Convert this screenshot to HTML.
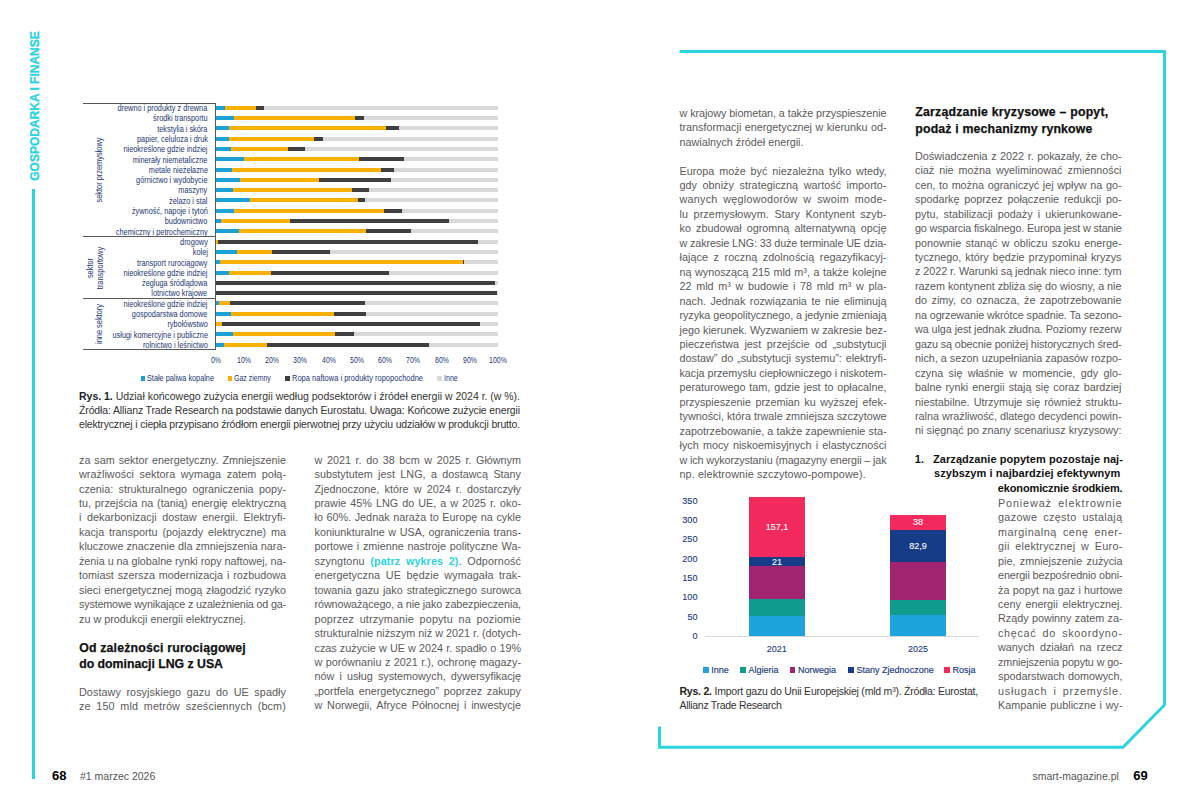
<!DOCTYPE html>
<html><head><meta charset="utf-8"><title>Magazine spread</title>
<style>
html,body{margin:0;padding:0;background:#fff;}
body{width:1200px;height:805px;position:relative;overflow:hidden;font-family:"Liberation Sans", sans-serif;}
b{font-weight:bold}
</style></head><body>
<div style="position:absolute;left:32px;top:189px;width:3px;height:590px;background:#2bd4de"></div><div style="position:absolute;left:35px;top:105.5px;width:0;height:0"><div style="position:absolute;transform:translate(-50%,-50%) rotate(-90deg);font-size:12px;line-height:12px;font-weight:bold;color:#2bd4de;white-space:pre;-webkit-text-stroke:0.3px #2bd4de">GOSPODARKA I FINANSE</div></div><svg style="position:absolute;left:0;top:0" width="1200" height="805"><polyline points="679.5,51.5 1164.5,51.5 1164.5,705 1123,747.3 659.5,747.3 659.5,726.6" fill="none" stroke="#2bd4de" stroke-width="3" stroke-linejoin="miter"/></svg><div style="position:absolute;left:52px;top:769.0px;font-size:13px;line-height:13px;font-weight:bold;color:#000">68</div><div style="position:absolute;left:80px;top:771.1px;font-size:10.5px;line-height:10.5px;color:#555">#1 marzec 2026</div><div style="position:absolute;left:1032.5px;top:771.1px;font-size:10.5px;line-height:10.5px;color:#555">smart-magazine.pl</div><div style="position:absolute;left:1133.3px;top:769.0px;font-size:13px;line-height:13px;font-weight:bold;color:#000">69</div>
<div style="position:absolute;left:215.50px;top:105.70px;width:9.50px;height:4px;background:#1ca0d8"></div><div style="position:absolute;left:225.00px;top:105.70px;width:31.00px;height:4px;background:#f8b100"></div><div style="position:absolute;left:256.00px;top:105.70px;width:8.00px;height:4px;background:#3f3f3f"></div><div style="position:absolute;left:264.00px;top:105.70px;width:234.00px;height:4px;background:#d9d9d9"></div><div style="position:absolute;right:992.4px;top:103.00px;font-size:8.7px;line-height:10px;color:#1b376f;white-space:pre;transform:scaleX(0.845);transform-origin:100% 50%">drewno i produkty z drewna</div><div style="position:absolute;left:215.50px;top:116.00px;width:18.75px;height:4px;background:#1ca0d8"></div><div style="position:absolute;left:234.25px;top:116.00px;width:121.00px;height:4px;background:#f8b100"></div><div style="position:absolute;left:355.25px;top:116.00px;width:9.00px;height:4px;background:#3f3f3f"></div><div style="position:absolute;left:364.25px;top:116.00px;width:133.75px;height:4px;background:#d9d9d9"></div><div style="position:absolute;right:992.4px;top:113.30px;font-size:8.7px;line-height:10px;color:#1b376f;white-space:pre;transform:scaleX(0.845);transform-origin:100% 50%">środki transportu</div><div style="position:absolute;left:215.50px;top:126.30px;width:13.00px;height:4px;background:#1ca0d8"></div><div style="position:absolute;left:228.50px;top:126.30px;width:157.75px;height:4px;background:#f8b100"></div><div style="position:absolute;left:386.25px;top:126.30px;width:12.75px;height:4px;background:#3f3f3f"></div><div style="position:absolute;left:399.00px;top:126.30px;width:99.00px;height:4px;background:#d9d9d9"></div><div style="position:absolute;right:992.4px;top:123.60px;font-size:8.7px;line-height:10px;color:#1b376f;white-space:pre;transform:scaleX(0.845);transform-origin:100% 50%">tekstylia i skóra</div><div style="position:absolute;left:215.50px;top:136.60px;width:13.50px;height:4px;background:#1ca0d8"></div><div style="position:absolute;left:229.00px;top:136.60px;width:85.25px;height:4px;background:#f8b100"></div><div style="position:absolute;left:314.25px;top:136.60px;width:8.50px;height:4px;background:#3f3f3f"></div><div style="position:absolute;left:322.75px;top:136.60px;width:175.25px;height:4px;background:#d9d9d9"></div><div style="position:absolute;right:992.4px;top:133.90px;font-size:8.7px;line-height:10px;color:#1b376f;white-space:pre;transform:scaleX(0.845);transform-origin:100% 50%">papier, celuloza i druk</div><div style="position:absolute;left:215.50px;top:146.90px;width:15.75px;height:4px;background:#1ca0d8"></div><div style="position:absolute;left:231.25px;top:146.90px;width:56.50px;height:4px;background:#f8b100"></div><div style="position:absolute;left:287.75px;top:146.90px;width:17.25px;height:4px;background:#3f3f3f"></div><div style="position:absolute;left:305.00px;top:146.90px;width:193.00px;height:4px;background:#d9d9d9"></div><div style="position:absolute;right:992.4px;top:144.20px;font-size:8.7px;line-height:10px;color:#1b376f;white-space:pre;transform:scaleX(0.845);transform-origin:100% 50%">nieokreślone gdzie indziej</div><div style="position:absolute;left:215.50px;top:157.20px;width:28.00px;height:4px;background:#1ca0d8"></div><div style="position:absolute;left:243.50px;top:157.20px;width:115.75px;height:4px;background:#f8b100"></div><div style="position:absolute;left:359.25px;top:157.20px;width:44.75px;height:4px;background:#3f3f3f"></div><div style="position:absolute;left:404.00px;top:157.20px;width:94.00px;height:4px;background:#d9d9d9"></div><div style="position:absolute;right:992.4px;top:154.50px;font-size:8.7px;line-height:10px;color:#1b376f;white-space:pre;transform:scaleX(0.845);transform-origin:100% 50%">minerały niemetaliczne</div><div style="position:absolute;left:215.50px;top:167.50px;width:16.50px;height:4px;background:#1ca0d8"></div><div style="position:absolute;left:232.00px;top:167.50px;width:148.75px;height:4px;background:#f8b100"></div><div style="position:absolute;left:380.75px;top:167.50px;width:13.25px;height:4px;background:#3f3f3f"></div><div style="position:absolute;left:394.00px;top:167.50px;width:104.00px;height:4px;background:#d9d9d9"></div><div style="position:absolute;right:992.4px;top:164.80px;font-size:8.7px;line-height:10px;color:#1b376f;white-space:pre;transform:scaleX(0.845);transform-origin:100% 50%">metale nieżelazne</div><div style="position:absolute;left:215.50px;top:177.80px;width:24.25px;height:4px;background:#1ca0d8"></div><div style="position:absolute;left:239.75px;top:177.80px;width:79.00px;height:4px;background:#f8b100"></div><div style="position:absolute;left:318.75px;top:177.80px;width:72.25px;height:4px;background:#3f3f3f"></div><div style="position:absolute;left:391.00px;top:177.80px;width:107.00px;height:4px;background:#d9d9d9"></div><div style="position:absolute;right:992.4px;top:175.10px;font-size:8.7px;line-height:10px;color:#1b376f;white-space:pre;transform:scaleX(0.845);transform-origin:100% 50%">górnictwo i wydobycie</div><div style="position:absolute;left:215.50px;top:188.10px;width:17.50px;height:4px;background:#1ca0d8"></div><div style="position:absolute;left:233.00px;top:188.10px;width:119.25px;height:4px;background:#f8b100"></div><div style="position:absolute;left:352.25px;top:188.10px;width:16.75px;height:4px;background:#3f3f3f"></div><div style="position:absolute;left:369.00px;top:188.10px;width:129.00px;height:4px;background:#d9d9d9"></div><div style="position:absolute;right:992.4px;top:185.40px;font-size:8.7px;line-height:10px;color:#1b376f;white-space:pre;transform:scaleX(0.845);transform-origin:100% 50%">maszyny</div><div style="position:absolute;left:215.50px;top:198.40px;width:34.50px;height:4px;background:#1ca0d8"></div><div style="position:absolute;left:250.00px;top:198.40px;width:107.50px;height:4px;background:#f8b100"></div><div style="position:absolute;left:357.50px;top:198.40px;width:7.50px;height:4px;background:#3f3f3f"></div><div style="position:absolute;left:365.00px;top:198.40px;width:133.00px;height:4px;background:#d9d9d9"></div><div style="position:absolute;right:992.4px;top:195.70px;font-size:8.7px;line-height:10px;color:#1b376f;white-space:pre;transform:scaleX(0.845);transform-origin:100% 50%">żelazo i stal</div><div style="position:absolute;left:215.50px;top:208.70px;width:18.75px;height:4px;background:#1ca0d8"></div><div style="position:absolute;left:234.25px;top:208.70px;width:150.00px;height:4px;background:#f8b100"></div><div style="position:absolute;left:384.25px;top:208.70px;width:17.50px;height:4px;background:#3f3f3f"></div><div style="position:absolute;left:401.75px;top:208.70px;width:96.25px;height:4px;background:#d9d9d9"></div><div style="position:absolute;right:992.4px;top:206.00px;font-size:8.7px;line-height:10px;color:#1b376f;white-space:pre;transform:scaleX(0.845);transform-origin:100% 50%">żywność, napoje i tytoń</div><div style="position:absolute;left:215.50px;top:219.00px;width:5.75px;height:4px;background:#1ca0d8"></div><div style="position:absolute;left:221.25px;top:219.00px;width:68.75px;height:4px;background:#f8b100"></div><div style="position:absolute;left:290.00px;top:219.00px;width:159.00px;height:4px;background:#3f3f3f"></div><div style="position:absolute;left:449.00px;top:219.00px;width:49.00px;height:4px;background:#d9d9d9"></div><div style="position:absolute;right:992.4px;top:216.30px;font-size:8.7px;line-height:10px;color:#1b376f;white-space:pre;transform:scaleX(0.845);transform-origin:100% 50%">budownictwo</div><div style="position:absolute;left:215.50px;top:229.30px;width:23.50px;height:4px;background:#1ca0d8"></div><div style="position:absolute;left:239.00px;top:229.30px;width:127.00px;height:4px;background:#f8b100"></div><div style="position:absolute;left:366.00px;top:229.30px;width:44.75px;height:4px;background:#3f3f3f"></div><div style="position:absolute;left:410.75px;top:229.30px;width:87.25px;height:4px;background:#d9d9d9"></div><div style="position:absolute;right:992.4px;top:226.60px;font-size:8.7px;line-height:10px;color:#1b376f;white-space:pre;transform:scaleX(0.845);transform-origin:100% 50%">chemiczny i petrochemiczny</div><div style="position:absolute;left:215.50px;top:239.60px;width:0.50px;height:4px;background:#1ca0d8"></div><div style="position:absolute;left:216.00px;top:239.60px;width:2.00px;height:4px;background:#f8b100"></div><div style="position:absolute;left:218.00px;top:239.60px;width:260.25px;height:4px;background:#3f3f3f"></div><div style="position:absolute;left:478.25px;top:239.60px;width:19.75px;height:4px;background:#d9d9d9"></div><div style="position:absolute;right:992.4px;top:236.90px;font-size:8.7px;line-height:10px;color:#1b376f;white-space:pre;transform:scaleX(0.845);transform-origin:100% 50%">drogowy</div><div style="position:absolute;left:215.50px;top:249.90px;width:21.50px;height:4px;background:#1ca0d8"></div><div style="position:absolute;left:237.00px;top:249.90px;width:35.25px;height:4px;background:#f8b100"></div><div style="position:absolute;left:272.25px;top:249.90px;width:57.75px;height:4px;background:#3f3f3f"></div><div style="position:absolute;left:330.00px;top:249.90px;width:168.00px;height:4px;background:#d9d9d9"></div><div style="position:absolute;right:992.4px;top:247.20px;font-size:8.7px;line-height:10px;color:#1b376f;white-space:pre;transform:scaleX(0.845);transform-origin:100% 50%">kolej</div><div style="position:absolute;left:215.50px;top:260.20px;width:4.50px;height:4px;background:#1ca0d8"></div><div style="position:absolute;left:220.00px;top:260.20px;width:243.25px;height:4px;background:#f8b100"></div><div style="position:absolute;left:463.25px;top:260.20px;width:1.00px;height:4px;background:#3f3f3f"></div><div style="position:absolute;left:464.25px;top:260.20px;width:33.75px;height:4px;background:#d9d9d9"></div><div style="position:absolute;right:992.4px;top:257.50px;font-size:8.7px;line-height:10px;color:#1b376f;white-space:pre;transform:scaleX(0.845);transform-origin:100% 50%">transport rurociągowy</div><div style="position:absolute;left:215.50px;top:270.50px;width:13.75px;height:4px;background:#1ca0d8"></div><div style="position:absolute;left:229.25px;top:270.50px;width:41.50px;height:4px;background:#f8b100"></div><div style="position:absolute;left:270.75px;top:270.50px;width:118.25px;height:4px;background:#3f3f3f"></div><div style="position:absolute;left:389.00px;top:270.50px;width:109.00px;height:4px;background:#d9d9d9"></div><div style="position:absolute;right:992.4px;top:267.80px;font-size:8.7px;line-height:10px;color:#1b376f;white-space:pre;transform:scaleX(0.845);transform-origin:100% 50%">nieokreślone gdzie indziej</div><div style="position:absolute;left:215.50px;top:280.80px;width:279.75px;height:4px;background:#3f3f3f"></div><div style="position:absolute;left:495.25px;top:280.80px;width:2.75px;height:4px;background:#d9d9d9"></div><div style="position:absolute;right:992.4px;top:278.10px;font-size:8.7px;line-height:10px;color:#1b376f;white-space:pre;transform:scaleX(0.845);transform-origin:100% 50%">żegluga śródlądowa</div><div style="position:absolute;left:215.50px;top:291.10px;width:281.25px;height:4px;background:#3f3f3f"></div><div style="position:absolute;left:496.75px;top:291.10px;width:1.25px;height:4px;background:#d9d9d9"></div><div style="position:absolute;right:992.4px;top:288.40px;font-size:8.7px;line-height:10px;color:#1b376f;white-space:pre;transform:scaleX(0.845);transform-origin:100% 50%">lotnictwo krajowe</div><div style="position:absolute;left:215.50px;top:301.40px;width:3.75px;height:4px;background:#1ca0d8"></div><div style="position:absolute;left:219.25px;top:301.40px;width:11.00px;height:4px;background:#f8b100"></div><div style="position:absolute;left:230.25px;top:301.40px;width:134.75px;height:4px;background:#3f3f3f"></div><div style="position:absolute;left:365.00px;top:301.40px;width:133.00px;height:4px;background:#d9d9d9"></div><div style="position:absolute;right:992.4px;top:298.70px;font-size:8.7px;line-height:10px;color:#1b376f;white-space:pre;transform:scaleX(0.845);transform-origin:100% 50%">nieokreślone gdzie indziej</div><div style="position:absolute;left:215.50px;top:311.70px;width:15.75px;height:4px;background:#1ca0d8"></div><div style="position:absolute;left:231.25px;top:311.70px;width:103.00px;height:4px;background:#f8b100"></div><div style="position:absolute;left:334.25px;top:311.70px;width:31.50px;height:4px;background:#3f3f3f"></div><div style="position:absolute;left:365.75px;top:311.70px;width:132.25px;height:4px;background:#d9d9d9"></div><div style="position:absolute;right:992.4px;top:309.00px;font-size:8.7px;line-height:10px;color:#1b376f;white-space:pre;transform:scaleX(0.845);transform-origin:100% 50%">gospodarstwa domowe</div><div style="position:absolute;left:215.50px;top:322.00px;width:0.75px;height:4px;background:#1ca0d8"></div><div style="position:absolute;left:216.25px;top:322.00px;width:6.00px;height:4px;background:#f8b100"></div><div style="position:absolute;left:222.25px;top:322.00px;width:257.75px;height:4px;background:#3f3f3f"></div><div style="position:absolute;left:480.00px;top:322.00px;width:18.00px;height:4px;background:#d9d9d9"></div><div style="position:absolute;right:992.4px;top:319.30px;font-size:8.7px;line-height:10px;color:#1b376f;white-space:pre;transform:scaleX(0.845);transform-origin:100% 50%">rybołówstwo</div><div style="position:absolute;left:215.50px;top:332.30px;width:17.75px;height:4px;background:#1ca0d8"></div><div style="position:absolute;left:233.25px;top:332.30px;width:101.75px;height:4px;background:#f8b100"></div><div style="position:absolute;left:335.00px;top:332.30px;width:18.75px;height:4px;background:#3f3f3f"></div><div style="position:absolute;left:353.75px;top:332.30px;width:144.25px;height:4px;background:#d9d9d9"></div><div style="position:absolute;right:992.4px;top:329.60px;font-size:8.7px;line-height:10px;color:#1b376f;white-space:pre;transform:scaleX(0.845);transform-origin:100% 50%">usługi komercyjne i publiczne</div><div style="position:absolute;left:215.50px;top:342.60px;width:8.00px;height:4px;background:#1ca0d8"></div><div style="position:absolute;left:223.50px;top:342.60px;width:43.50px;height:4px;background:#f8b100"></div><div style="position:absolute;left:267.00px;top:342.60px;width:162.25px;height:4px;background:#3f3f3f"></div><div style="position:absolute;left:429.25px;top:342.60px;width:68.75px;height:4px;background:#d9d9d9"></div><div style="position:absolute;right:992.4px;top:339.90px;font-size:8.7px;line-height:10px;color:#1b376f;white-space:pre;transform:scaleX(0.845);transform-origin:100% 50%">rolnictwo i leśnictwo</div><div style="position:absolute;left:83px;top:102.5px;width:132.5px;height:1px;background:#595959"></div><div style="position:absolute;left:214.6px;top:102.5px;width:1px;height:247.5px;background:#595959"></div><div style="position:absolute;left:83px;top:236.2px;width:132.5px;height:1px;background:#595959"></div><div style="position:absolute;left:83px;top:298.0px;width:132.5px;height:1px;background:#595959"></div><div style="position:absolute;left:83px;top:349.2px;width:132.5px;height:1px;background:#595959"></div><div style="position:absolute;left:98.5px;top:170px;width:0;height:0"><div style="position:absolute;left:0;top:0;transform:translate(-50%,-50%) rotate(-90deg) scaleX(0.86);font-size:8.6px;line-height:10px;color:#1b376f;white-space:pre;text-align:center">sektor przemysłowy</div></div><div style="position:absolute;left:94.5px;top:267.5px;width:0;height:0"><div style="position:absolute;left:0;top:0;transform:translate(-50%,-50%) rotate(-90deg) scaleX(0.86);font-size:8.6px;line-height:10px;color:#1b376f;white-space:pre;text-align:center">sektor
transportowy</div></div><div style="position:absolute;left:98.5px;top:324px;width:0;height:0"><div style="position:absolute;left:0;top:0;transform:translate(-50%,-50%) rotate(-90deg) scaleX(0.86);font-size:8.6px;line-height:10px;color:#1b376f;white-space:pre;text-align:center">inne sektory</div></div><div style="position:absolute;left:195.50px;width:40px;text-align:center;top:355px;font-size:8.4px;line-height:10px;color:#1b376f;transform:scaleX(0.83)">0%</div><div style="position:absolute;left:223.75px;width:40px;text-align:center;top:355px;font-size:8.4px;line-height:10px;color:#1b376f;transform:scaleX(0.83)">10%</div><div style="position:absolute;left:252.00px;width:40px;text-align:center;top:355px;font-size:8.4px;line-height:10px;color:#1b376f;transform:scaleX(0.83)">20%</div><div style="position:absolute;left:280.25px;width:40px;text-align:center;top:355px;font-size:8.4px;line-height:10px;color:#1b376f;transform:scaleX(0.83)">30%</div><div style="position:absolute;left:308.50px;width:40px;text-align:center;top:355px;font-size:8.4px;line-height:10px;color:#1b376f;transform:scaleX(0.83)">40%</div><div style="position:absolute;left:336.75px;width:40px;text-align:center;top:355px;font-size:8.4px;line-height:10px;color:#1b376f;transform:scaleX(0.83)">50%</div><div style="position:absolute;left:365.00px;width:40px;text-align:center;top:355px;font-size:8.4px;line-height:10px;color:#1b376f;transform:scaleX(0.83)">60%</div><div style="position:absolute;left:393.25px;width:40px;text-align:center;top:355px;font-size:8.4px;line-height:10px;color:#1b376f;transform:scaleX(0.83)">70%</div><div style="position:absolute;left:421.50px;width:40px;text-align:center;top:355px;font-size:8.4px;line-height:10px;color:#1b376f;transform:scaleX(0.83)">80%</div><div style="position:absolute;left:449.75px;width:40px;text-align:center;top:355px;font-size:8.4px;line-height:10px;color:#1b376f;transform:scaleX(0.83)">90%</div><div style="position:absolute;left:478.00px;width:40px;text-align:center;top:355px;font-size:8.4px;line-height:10px;color:#1b376f;transform:scaleX(0.83)">100%</div><div style="position:absolute;left:140.5px;top:376.2px;width:4.4px;height:4.4px;background:#1ca0d8"></div><div style="position:absolute;left:146.8px;top:373.3px;font-size:8.5px;line-height:10px;color:#1b376f;white-space:pre;transform:scaleX(0.859);transform-origin:0 50%">Stałe paliwa kopalne</div><div style="position:absolute;left:228.0px;top:376.2px;width:4.4px;height:4.4px;background:#f8b100"></div><div style="position:absolute;left:234.3px;top:373.3px;font-size:8.5px;line-height:10px;color:#1b376f;white-space:pre;transform:scaleX(0.820);transform-origin:0 50%">Gaz ziemny</div><div style="position:absolute;left:285.3px;top:376.2px;width:4.4px;height:4.4px;background:#3f3f3f"></div><div style="position:absolute;left:291.6px;top:373.3px;font-size:8.5px;line-height:10px;color:#1b376f;white-space:pre;transform:scaleX(0.883);transform-origin:0 50%">Ropa naftowa i produkty ropopochodne</div><div style="position:absolute;left:437.3px;top:376.2px;width:4.4px;height:4.4px;background:#d9d9d9"></div><div style="position:absolute;left:443.6px;top:373.3px;font-size:8.5px;line-height:10px;color:#1b376f;white-space:pre;transform:scaleX(0.834);transform-origin:0 50%">Inne</div>
<div style="position:absolute;left:749.2px;top:615.9px;width:56.0px;height:20.1px;background:#1ea4dc"></div><div style="position:absolute;left:749.2px;top:599.1px;width:56.0px;height:16.8px;background:#0f9b8e"></div><div style="position:absolute;left:749.2px;top:565.8px;width:56.0px;height:33.3px;background:#a12470"></div><div style="position:absolute;left:749.2px;top:557px;width:56.0px;height:8.8px;background:#163b87"></div><div style="position:absolute;left:749.2px;top:496.5px;width:56.0px;height:60.5px;background:#f32a5e"></div><div style="position:absolute;left:890.3px;top:614.9px;width:55.4px;height:21.1px;background:#1ea4dc"></div><div style="position:absolute;left:890.3px;top:599.9px;width:55.4px;height:15.0px;background:#0f9b8e"></div><div style="position:absolute;left:890.3px;top:562.1px;width:55.4px;height:37.8px;background:#a12470"></div><div style="position:absolute;left:890.3px;top:529.8px;width:55.4px;height:32.3px;background:#163b87"></div><div style="position:absolute;left:890.3px;top:515.1px;width:55.4px;height:14.7px;background:#f32a5e"></div><div style="position:absolute;left:704.7px;top:636px;width:274.6px;height:1px;background:#d9d9d9"></div><div style="position:absolute;right:502.5px;top:630.9px;font-size:9.1px;line-height:11px;color:#1a3a80;-webkit-text-stroke:0.1px #1a3a80">0</div><div style="position:absolute;right:502.5px;top:611.6px;font-size:9.1px;line-height:11px;color:#1a3a80;-webkit-text-stroke:0.1px #1a3a80">50</div><div style="position:absolute;right:502.5px;top:592.3px;font-size:9.1px;line-height:11px;color:#1a3a80;-webkit-text-stroke:0.1px #1a3a80">100</div><div style="position:absolute;right:502.5px;top:573.0px;font-size:9.1px;line-height:11px;color:#1a3a80;-webkit-text-stroke:0.1px #1a3a80">150</div><div style="position:absolute;right:502.5px;top:553.7px;font-size:9.1px;line-height:11px;color:#1a3a80;-webkit-text-stroke:0.1px #1a3a80">200</div><div style="position:absolute;right:502.5px;top:534.4px;font-size:9.1px;line-height:11px;color:#1a3a80;-webkit-text-stroke:0.1px #1a3a80">250</div><div style="position:absolute;right:502.5px;top:515.1px;font-size:9.1px;line-height:11px;color:#1a3a80;-webkit-text-stroke:0.1px #1a3a80">300</div><div style="position:absolute;right:502.5px;top:495.9px;font-size:9.1px;line-height:11px;color:#1a3a80;-webkit-text-stroke:0.1px #1a3a80">350</div><div style="position:absolute;left:757.1px;width:40px;text-align:center;top:522.0px;font-size:9px;line-height:11px;color:#fff;-webkit-text-stroke:0.1px #fff">157,1</div><div style="position:absolute;left:757.1px;width:40px;text-align:center;top:556.6px;font-size:9px;line-height:11px;color:#fff;-webkit-text-stroke:0.1px #fff">21</div><div style="position:absolute;left:898px;width:40px;text-align:center;top:517.3px;font-size:9px;line-height:11px;color:#fff;-webkit-text-stroke:0.1px #fff">38</div><div style="position:absolute;left:898px;width:40px;text-align:center;top:541.0px;font-size:9px;line-height:11px;color:#fff;-webkit-text-stroke:0.1px #fff">82,9</div><div style="position:absolute;left:756.7px;width:40px;text-align:center;top:644.4px;font-size:9px;line-height:11px;color:#1a3a80;-webkit-text-stroke:0.1px #1a3a80">2021</div><div style="position:absolute;left:898px;width:40px;text-align:center;top:644.4px;font-size:9px;line-height:11px;color:#1a3a80;-webkit-text-stroke:0.1px #1a3a80">2025</div><div style="position:absolute;left:703.1px;top:667.1px;width:5.7px;height:5.6px;background:#1ea4dc"></div><div style="position:absolute;left:711.3px;top:665.1px;font-size:9px;line-height:11px;color:#1a3a80;white-space:pre;-webkit-text-stroke:0.15px #1a3a80">Inne</div><div style="position:absolute;left:740.4px;top:667.1px;width:5.7px;height:5.6px;background:#0f9b8e"></div><div style="position:absolute;left:748.6px;top:665.1px;font-size:9px;line-height:11px;color:#1a3a80;white-space:pre;-webkit-text-stroke:0.15px #1a3a80">Algieria</div><div style="position:absolute;left:789.8px;top:667.1px;width:5.7px;height:5.6px;background:#a12470"></div><div style="position:absolute;left:798.0px;top:665.1px;font-size:9px;line-height:11px;color:#1a3a80;white-space:pre;-webkit-text-stroke:0.15px #1a3a80">Norwegia</div><div style="position:absolute;left:848.4px;top:667.1px;width:5.7px;height:5.6px;background:#163b87"></div><div style="position:absolute;left:856.6px;top:665.1px;font-size:9px;line-height:11px;color:#1a3a80;white-space:pre;-webkit-text-stroke:0.15px #1a3a80">Stany Zjednoczone</div><div style="position:absolute;left:944.4px;top:667.1px;width:5.7px;height:5.6px;background:#f32a5e"></div><div style="position:absolute;left:952.6px;top:665.1px;font-size:9px;line-height:11px;color:#1a3a80;white-space:pre;-webkit-text-stroke:0.15px #1a3a80">Rosja</div>
<span style="position:absolute;left:79.00px;top:454.66px;font-size:10.8px;line-height:10.8px;font-weight:normal;color:#5a5a5a;white-space:pre;word-spacing:0.941px;">za sam sektor energetyczny. Zmniejszenie</span><span style="position:absolute;left:79.00px;top:469.11px;font-size:10.8px;line-height:10.8px;font-weight:normal;color:#5a5a5a;white-space:pre;word-spacing:2.500px;letter-spacing:0.037px;">wrażliwości sektora wymaga zatem połą-</span><span style="position:absolute;left:79.00px;top:483.56px;font-size:10.8px;line-height:10.8px;font-weight:normal;color:#5a5a5a;white-space:pre;word-spacing:2.380px;">czenia: strukturalnego ograniczenia popy-</span><span style="position:absolute;left:79.00px;top:498.01px;font-size:10.8px;line-height:10.8px;font-weight:normal;color:#5a5a5a;white-space:pre;word-spacing:0.831px;">tu, przejścia na (tanią) energię elektryczną</span><span style="position:absolute;left:79.00px;top:512.46px;font-size:10.8px;line-height:10.8px;font-weight:normal;color:#5a5a5a;white-space:pre;word-spacing:2.500px;letter-spacing:0.046px;">i dekarbonizacji dostaw energii. Elektryfi-</span><span style="position:absolute;left:79.00px;top:526.91px;font-size:10.8px;line-height:10.8px;font-weight:normal;color:#5a5a5a;white-space:pre;word-spacing:1.793px;">kacja transportu (pojazdy elektryczne) ma</span><span style="position:absolute;left:79.00px;top:541.36px;font-size:10.8px;line-height:10.8px;font-weight:normal;color:#5a5a5a;white-space:pre;letter-spacing:-0.001px;">kluczowe znaczenie dla zmniejszenia nara-</span><span style="position:absolute;left:79.00px;top:555.81px;font-size:10.8px;line-height:10.8px;font-weight:normal;color:#5a5a5a;white-space:pre;letter-spacing:-0.029px;">żenia u na globalne rynki ropy naftowej, na-</span><span style="position:absolute;left:79.00px;top:570.26px;font-size:10.8px;line-height:10.8px;font-weight:normal;color:#5a5a5a;white-space:pre;word-spacing:0.891px;">tomiast szersza modernizacja i rozbudowa</span><span style="position:absolute;left:79.00px;top:584.71px;font-size:10.8px;line-height:10.8px;font-weight:normal;color:#5a5a5a;white-space:pre;word-spacing:0.738px;">sieci energetycznej mogą złagodzić ryzyko</span><span style="position:absolute;left:79.00px;top:599.16px;font-size:10.8px;line-height:10.8px;font-weight:normal;color:#5a5a5a;white-space:pre;letter-spacing:-0.187px;">systemowe wynikające z uzależnienia od ga-</span><span style="position:absolute;left:79.00px;top:613.61px;font-size:10.8px;line-height:10.8px;font-weight:normal;color:#5a5a5a;white-space:pre;letter-spacing:-0.001px;">zu w produkcji energii elektrycznej.</span><span style="position:absolute;left:79.00px;top:686.86px;font-size:10.8px;line-height:10.8px;font-weight:normal;color:#5a5a5a;white-space:pre;word-spacing:2.500px;letter-spacing:0.066px;">Dostawy rosyjskiego gazu do UE spadły</span><span style="position:absolute;left:79.00px;top:701.31px;font-size:10.8px;line-height:10.8px;font-weight:normal;color:#5a5a5a;white-space:pre;word-spacing:2.500px;letter-spacing:0.135px;">ze 150 mld metrów sześciennych (bcm)</span><span style="position:absolute;left:314.50px;top:454.66px;font-size:10.8px;line-height:10.8px;font-weight:normal;color:#5a5a5a;white-space:pre;word-spacing:1.606px;">w 2021 r. do 38 bcm w 2025 r. Głównym</span><span style="position:absolute;left:314.50px;top:469.11px;font-size:10.8px;line-height:10.8px;font-weight:normal;color:#5a5a5a;white-space:pre;word-spacing:2.413px;">substytutem jest LNG, a dostawcą Stany</span><span style="position:absolute;left:314.50px;top:483.56px;font-size:10.8px;line-height:10.8px;font-weight:normal;color:#5a5a5a;white-space:pre;word-spacing:2.169px;">Zjednoczone, które w 2024 r. dostarczyły</span><span style="position:absolute;left:314.50px;top:498.01px;font-size:10.8px;line-height:10.8px;font-weight:normal;color:#5a5a5a;white-space:pre;word-spacing:1.005px;">prawie 45% LNG do UE, a w 2025 r. oko-</span><span style="position:absolute;left:314.50px;top:512.46px;font-size:10.8px;line-height:10.8px;font-weight:normal;color:#5a5a5a;white-space:pre;word-spacing:0.603px;">ło 60%. Jednak naraża to Europę na cykle</span><span style="position:absolute;left:314.50px;top:526.91px;font-size:10.8px;line-height:10.8px;font-weight:normal;color:#5a5a5a;white-space:pre;word-spacing:0.613px;">koniunkturalne w USA, ograniczenia trans-</span><span style="position:absolute;left:314.50px;top:541.36px;font-size:10.8px;line-height:10.8px;font-weight:normal;color:#5a5a5a;white-space:pre;word-spacing:0.812px;">portowe i zmienne nastroje polityczne Wa-</span><span style="position:absolute;left:314.50px;top:555.81px;font-size:10.8px;line-height:10.8px;font-weight:normal;color:#5a5a5a;white-space:pre;word-spacing:2.500px;letter-spacing:0.104px;">szyngtonu <b style="color:#2bd4de;font-weight:bold">(patrz wykres 2)</b>. Odporność</span><span style="position:absolute;left:314.50px;top:570.26px;font-size:10.8px;line-height:10.8px;font-weight:normal;color:#5a5a5a;white-space:pre;word-spacing:2.500px;letter-spacing:0.072px;">energetyczna UE będzie wymagała trak-</span><span style="position:absolute;left:314.50px;top:584.71px;font-size:10.8px;line-height:10.8px;font-weight:normal;color:#5a5a5a;white-space:pre;word-spacing:0.910px;">towania gazu jako strategicznego surowca</span><span style="position:absolute;left:314.50px;top:599.16px;font-size:10.8px;line-height:10.8px;font-weight:normal;color:#5a5a5a;white-space:pre;letter-spacing:-0.102px;">równoważącego, a nie jako zabezpieczenia,</span><span style="position:absolute;left:314.50px;top:613.61px;font-size:10.8px;line-height:10.8px;font-weight:normal;color:#5a5a5a;white-space:pre;word-spacing:2.500px;letter-spacing:0.152px;">poprzez utrzymanie popytu na poziomie</span><span style="position:absolute;left:314.50px;top:628.06px;font-size:10.8px;line-height:10.8px;font-weight:normal;color:#5a5a5a;white-space:pre;word-spacing:0.013px;">strukturalnie niższym niż w 2021 r. (dotych-</span><span style="position:absolute;left:314.50px;top:642.51px;font-size:10.8px;line-height:10.8px;font-weight:normal;color:#5a5a5a;white-space:pre;word-spacing:0.139px;">czas zużycie w UE w 2024 r. spadło o 19%</span><span style="position:absolute;left:314.50px;top:656.96px;font-size:10.8px;line-height:10.8px;font-weight:normal;color:#5a5a5a;white-space:pre;word-spacing:0.406px;">w porównaniu z 2021 r.), ochronę magazy-</span><span style="position:absolute;left:314.50px;top:671.41px;font-size:10.8px;line-height:10.8px;font-weight:normal;color:#5a5a5a;white-space:pre;word-spacing:2.121px;">nów i usług systemowych, dywersyfikację</span><span style="position:absolute;left:314.50px;top:685.86px;font-size:10.8px;line-height:10.8px;font-weight:normal;color:#5a5a5a;white-space:pre;word-spacing:1.615px;">„portfela energetycznego” poprzez zakupy</span><span style="position:absolute;left:314.50px;top:700.31px;font-size:10.8px;line-height:10.8px;font-weight:normal;color:#5a5a5a;white-space:pre;word-spacing:1.812px;">w Norwegii, Afryce Północnej i inwestycje</span><span style="position:absolute;left:679.50px;top:107.76px;font-size:10.8px;line-height:10.8px;font-weight:normal;color:#5a5a5a;white-space:pre;letter-spacing:-0.073px;">w krajowy biometan, a także przyspieszenie</span><span style="position:absolute;left:679.50px;top:122.21px;font-size:10.8px;line-height:10.8px;font-weight:normal;color:#5a5a5a;white-space:pre;word-spacing:0.441px;">transformacji energetycznej w kierunku od-</span><span style="position:absolute;left:679.50px;top:136.66px;font-size:10.8px;line-height:10.8px;font-weight:normal;color:#5a5a5a;white-space:pre;letter-spacing:-0.009px;">nawialnych źródeł energii.</span><span style="position:absolute;left:679.50px;top:165.56px;font-size:10.8px;line-height:10.8px;font-weight:normal;color:#5a5a5a;white-space:pre;word-spacing:1.950px;">Europa może być niezależna tylko wtedy,</span><span style="position:absolute;left:679.50px;top:180.01px;font-size:10.8px;line-height:10.8px;font-weight:normal;color:#5a5a5a;white-space:pre;word-spacing:2.500px;letter-spacing:0.034px;">gdy obniży strategiczną wartość importo-</span><span style="position:absolute;left:679.50px;top:194.46px;font-size:10.8px;line-height:10.8px;font-weight:normal;color:#5a5a5a;white-space:pre;word-spacing:2.500px;letter-spacing:0.241px;">wanych węglowodorów w swoim mode-</span><span style="position:absolute;left:679.50px;top:208.91px;font-size:10.8px;line-height:10.8px;font-weight:normal;color:#5a5a5a;white-space:pre;word-spacing:2.500px;letter-spacing:0.068px;">lu przemysłowym. Stary Kontynent szyb-</span><span style="position:absolute;left:679.50px;top:223.36px;font-size:10.8px;line-height:10.8px;font-weight:normal;color:#5a5a5a;white-space:pre;word-spacing:2.082px;">ko zbudował ogromną alternatywną opcję</span><span style="position:absolute;left:679.50px;top:237.81px;font-size:10.8px;line-height:10.8px;font-weight:normal;color:#5a5a5a;white-space:pre;letter-spacing:-0.129px;">w zakresie LNG: 33 duże terminale UE dzia-</span><span style="position:absolute;left:679.50px;top:252.26px;font-size:10.8px;line-height:10.8px;font-weight:normal;color:#5a5a5a;white-space:pre;word-spacing:2.500px;letter-spacing:0.048px;">łające z roczną zdolnością regazyfikacyj-</span><span style="position:absolute;left:679.50px;top:266.71px;font-size:10.8px;line-height:10.8px;font-weight:normal;color:#5a5a5a;white-space:pre;word-spacing:0.507px;">ną wynoszącą 215 mld m³, a także kolejne</span><span style="position:absolute;left:679.50px;top:281.16px;font-size:10.8px;line-height:10.8px;font-weight:normal;color:#5a5a5a;white-space:pre;word-spacing:1.678px;">22 mld m³ w budowie i 78 mld m³ w pla-</span><span style="position:absolute;left:679.50px;top:295.61px;font-size:10.8px;line-height:10.8px;font-weight:normal;color:#5a5a5a;white-space:pre;word-spacing:1.547px;">nach. Jednak rozwiązania te nie eliminują</span><span style="position:absolute;left:679.50px;top:310.06px;font-size:10.8px;line-height:10.8px;font-weight:normal;color:#5a5a5a;white-space:pre;letter-spacing:-0.071px;">ryzyka geopolitycznego, a jedynie zmieniają</span><span style="position:absolute;left:679.50px;top:324.51px;font-size:10.8px;line-height:10.8px;font-weight:normal;color:#5a5a5a;white-space:pre;word-spacing:0.134px;">jego kierunek. Wyzwaniem w zakresie bez-</span><span style="position:absolute;left:679.50px;top:338.96px;font-size:10.8px;line-height:10.8px;font-weight:normal;color:#5a5a5a;white-space:pre;word-spacing:2.500px;letter-spacing:0.004px;">pieczeństwa jest przejście od „substytucji</span><span style="position:absolute;left:679.50px;top:353.41px;font-size:10.8px;line-height:10.8px;font-weight:normal;color:#5a5a5a;white-space:pre;word-spacing:0.898px;">dostaw” do „substytucji systemu”: elektryfi-</span><span style="position:absolute;left:679.50px;top:367.86px;font-size:10.8px;line-height:10.8px;font-weight:normal;color:#5a5a5a;white-space:pre;letter-spacing:-0.044px;">kacja przemysłu ciepłowniczego i niskotem-</span><span style="position:absolute;left:679.50px;top:382.31px;font-size:10.8px;line-height:10.8px;font-weight:normal;color:#5a5a5a;white-space:pre;word-spacing:0.825px;">peraturowego tam, gdzie jest to opłacalne,</span><span style="position:absolute;left:679.50px;top:396.76px;font-size:10.8px;line-height:10.8px;font-weight:normal;color:#5a5a5a;white-space:pre;word-spacing:1.492px;">przyspieszenie przemian ku wyższej efek-</span><span style="position:absolute;left:679.50px;top:411.21px;font-size:10.8px;line-height:10.8px;font-weight:normal;color:#5a5a5a;white-space:pre;letter-spacing:-0.000px;">tywności, która trwale zmniejsza szczytowe</span><span style="position:absolute;left:679.50px;top:425.66px;font-size:10.8px;line-height:10.8px;font-weight:normal;color:#5a5a5a;white-space:pre;word-spacing:0.133px;">zapotrzebowanie, a także zapewnienie sta-</span><span style="position:absolute;left:679.50px;top:440.11px;font-size:10.8px;line-height:10.8px;font-weight:normal;color:#5a5a5a;white-space:pre;word-spacing:1.195px;">łych mocy niskoemisyjnych i elastyczności</span><span style="position:absolute;left:679.50px;top:454.56px;font-size:10.8px;line-height:10.8px;font-weight:normal;color:#5a5a5a;white-space:pre;letter-spacing:-0.126px;">w ich wykorzystaniu (magazyny energii – jak</span><span style="position:absolute;left:679.50px;top:469.01px;font-size:10.8px;line-height:10.8px;font-weight:normal;color:#5a5a5a;white-space:pre;letter-spacing:0.110px;">np. elektrownie szczytowo-pompowe).</span><span style="position:absolute;left:915.00px;top:150.86px;font-size:10.8px;line-height:10.8px;font-weight:normal;color:#5a5a5a;white-space:pre;word-spacing:0.542px;">Doświadczenia z 2022 r. pokazały, że cho-</span><span style="position:absolute;left:915.00px;top:165.31px;font-size:10.8px;line-height:10.8px;font-weight:normal;color:#5a5a5a;white-space:pre;word-spacing:1.969px;">ciaż nie można wyeliminować zmienności</span><span style="position:absolute;left:915.00px;top:179.76px;font-size:10.8px;line-height:10.8px;font-weight:normal;color:#5a5a5a;white-space:pre;word-spacing:0.607px;">cen, to można ograniczyć jej wpływ na go-</span><span style="position:absolute;left:915.00px;top:194.21px;font-size:10.8px;line-height:10.8px;font-weight:normal;color:#5a5a5a;white-space:pre;word-spacing:1.809px;">spodarkę poprzez połączenie redukcji po-</span><span style="position:absolute;left:915.00px;top:208.66px;font-size:10.8px;line-height:10.8px;font-weight:normal;color:#5a5a5a;white-space:pre;word-spacing:2.113px;">pytu, stabilizacji podaży i ukierunkowane-</span><span style="position:absolute;left:915.00px;top:223.11px;font-size:10.8px;line-height:10.8px;font-weight:normal;color:#5a5a5a;white-space:pre;letter-spacing:-0.135px;">go wsparcia fiskalnego. Europa jest w stanie</span><span style="position:absolute;left:915.00px;top:237.56px;font-size:10.8px;line-height:10.8px;font-weight:normal;color:#5a5a5a;white-space:pre;word-spacing:1.328px;">ponownie stanąć w obliczu szoku energe-</span><span style="position:absolute;left:915.00px;top:252.01px;font-size:10.8px;line-height:10.8px;font-weight:normal;color:#5a5a5a;white-space:pre;word-spacing:1.066px;">tycznego, który będzie przypominał kryzys</span><span style="position:absolute;left:915.00px;top:266.46px;font-size:10.8px;line-height:10.8px;font-weight:normal;color:#5a5a5a;white-space:pre;letter-spacing:-0.045px;">z 2022 r. Warunki są jednak nieco inne: tym</span><span style="position:absolute;left:915.00px;top:280.91px;font-size:10.8px;line-height:10.8px;font-weight:normal;color:#5a5a5a;white-space:pre;letter-spacing:-0.008px;">razem kontynent zbliża się do wiosny, a nie</span><span style="position:absolute;left:915.00px;top:295.36px;font-size:10.8px;line-height:10.8px;font-weight:normal;color:#5a5a5a;white-space:pre;word-spacing:1.491px;">do zimy, co oznacza, że zapotrzebowanie</span><span style="position:absolute;left:915.00px;top:309.81px;font-size:10.8px;line-height:10.8px;font-weight:normal;color:#5a5a5a;white-space:pre;letter-spacing:-0.082px;">na ogrzewanie wkrótce spadnie. Ta sezono-</span><span style="position:absolute;left:915.00px;top:324.26px;font-size:10.8px;line-height:10.8px;font-weight:normal;color:#5a5a5a;white-space:pre;letter-spacing:-0.070px;">wa ulga jest jednak złudna. Poziomy rezerw</span><span style="position:absolute;left:915.00px;top:338.71px;font-size:10.8px;line-height:10.8px;font-weight:normal;color:#5a5a5a;white-space:pre;letter-spacing:-0.125px;">gazu są obecnie poniżej historycznych śred-</span><span style="position:absolute;left:915.00px;top:353.16px;font-size:10.8px;line-height:10.8px;font-weight:normal;color:#5a5a5a;white-space:pre;word-spacing:0.003px;">nich, a sezon uzupełniania zapasów rozpo-</span><span style="position:absolute;left:915.00px;top:367.61px;font-size:10.8px;line-height:10.8px;font-weight:normal;color:#5a5a5a;white-space:pre;word-spacing:2.411px;">czyna się właśnie w momencie, gdy glo-</span><span style="position:absolute;left:915.00px;top:382.06px;font-size:10.8px;line-height:10.8px;font-weight:normal;color:#5a5a5a;white-space:pre;word-spacing:1.008px;">balne rynki energii stają się coraz bardziej</span><span style="position:absolute;left:915.00px;top:396.51px;font-size:10.8px;line-height:10.8px;font-weight:normal;color:#5a5a5a;white-space:pre;word-spacing:1.070px;">niestabilne. Utrzymuje się również struktu-</span><span style="position:absolute;left:915.00px;top:410.96px;font-size:10.8px;line-height:10.8px;font-weight:normal;color:#5a5a5a;white-space:pre;letter-spacing:-0.013px;">ralna wrażliwość, dlatego decydenci powin-</span><span style="position:absolute;left:915.00px;top:425.41px;font-size:10.8px;line-height:10.8px;font-weight:normal;color:#5a5a5a;white-space:pre;word-spacing:0.131px;">ni sięgnąć po znany scenariusz kryzysowy:</span><span style="position:absolute;left:998.00px;top:497.86px;font-size:10.8px;line-height:10.8px;font-weight:normal;color:#5a5a5a;white-space:pre;word-spacing:2.500px;letter-spacing:0.878px;">Ponieważ elektrownie</span><span style="position:absolute;left:998.00px;top:512.31px;font-size:10.8px;line-height:10.8px;font-weight:normal;color:#5a5a5a;white-space:pre;word-spacing:2.500px;letter-spacing:0.357px;">gazowe często ustalają</span><span style="position:absolute;left:998.00px;top:526.76px;font-size:10.8px;line-height:10.8px;font-weight:normal;color:#5a5a5a;white-space:pre;word-spacing:2.500px;letter-spacing:0.545px;">marginalną cenę ener-</span><span style="position:absolute;left:998.00px;top:541.21px;font-size:10.8px;line-height:10.8px;font-weight:normal;color:#5a5a5a;white-space:pre;word-spacing:2.500px;letter-spacing:0.249px;">gii elektrycznej w Euro-</span><span style="position:absolute;left:998.00px;top:555.66px;font-size:10.8px;line-height:10.8px;font-weight:normal;color:#5a5a5a;white-space:pre;word-spacing:1.336px;">pie, zmniejszenie zużycia</span><span style="position:absolute;left:998.00px;top:570.11px;font-size:10.8px;line-height:10.8px;font-weight:normal;color:#5a5a5a;white-space:pre;letter-spacing:-0.106px;">energii bezpośrednio obni-</span><span style="position:absolute;left:998.00px;top:584.56px;font-size:10.8px;line-height:10.8px;font-weight:normal;color:#5a5a5a;white-space:pre;word-spacing:0.291px;">ża popyt na gaz i hurtowe</span><span style="position:absolute;left:998.00px;top:599.01px;font-size:10.8px;line-height:10.8px;font-weight:normal;color:#5a5a5a;white-space:pre;word-spacing:1.633px;">ceny energii elektrycznej.</span><span style="position:absolute;left:998.00px;top:613.46px;font-size:10.8px;line-height:10.8px;font-weight:normal;color:#5a5a5a;white-space:pre;word-spacing:0.292px;">Rządy powinny zatem za-</span><span style="position:absolute;left:998.00px;top:627.91px;font-size:10.8px;line-height:10.8px;font-weight:normal;color:#5a5a5a;white-space:pre;word-spacing:2.500px;letter-spacing:0.693px;">chęcać do skoordyno-</span><span style="position:absolute;left:998.00px;top:642.36px;font-size:10.8px;line-height:10.8px;font-weight:normal;color:#5a5a5a;white-space:pre;word-spacing:2.286px;">wanych działań na rzecz</span><span style="position:absolute;left:998.00px;top:656.81px;font-size:10.8px;line-height:10.8px;font-weight:normal;color:#5a5a5a;white-space:pre;letter-spacing:-0.109px;">zmniejszenia popytu w go-</span><span style="position:absolute;left:998.00px;top:671.26px;font-size:10.8px;line-height:10.8px;font-weight:normal;color:#5a5a5a;white-space:pre;word-spacing:0.266px;">spodarstwach domowych,</span><span style="position:absolute;left:998.00px;top:685.71px;font-size:10.8px;line-height:10.8px;font-weight:normal;color:#5a5a5a;white-space:pre;word-spacing:2.500px;letter-spacing:0.746px;">usługach i przemyśle.</span><span style="position:absolute;left:998.00px;top:700.16px;font-size:10.8px;line-height:10.8px;font-weight:normal;color:#5a5a5a;white-space:pre;word-spacing:0.688px;">Kampanie publiczne i wy-</span><span style="position:absolute;left:79.00px;top:390.71px;font-size:10.5px;line-height:10.5px;font-weight:normal;color:#333;white-space:pre;letter-spacing:-0.015px;"><b style="color:#222">Rys. 1.</b> Udział końcowego zużycia energii według podsektorów i źródeł energii w 2024 r. (w %).</span><span style="position:absolute;left:79.00px;top:404.96px;font-size:10.5px;line-height:10.5px;font-weight:normal;color:#333;white-space:pre;letter-spacing:-0.130px;">Źródła: Allianz Trade Research na podstawie danych Eurostatu. Uwaga: Końcowe zużycie energii</span><span style="position:absolute;left:79.00px;top:419.21px;font-size:10.5px;line-height:10.5px;font-weight:normal;color:#333;white-space:pre;letter-spacing:-0.165px;">elektrycznej i ciepła przypisano źródłom energii pierwotnej przy użyciu udziałów w produkcji brutto.</span><span style="position:absolute;left:679.50px;top:685.71px;font-size:10.5px;line-height:10.5px;font-weight:normal;color:#333;white-space:pre;letter-spacing:-0.219px;"><b style="color:#222">Rys. 2.</b> Import gazu do Unii Europejskiej (mld m³). Źródła: Eurostat,</span><span style="position:absolute;left:679.50px;top:699.81px;font-size:10.5px;line-height:10.5px;font-weight:normal;color:#333;white-space:pre;letter-spacing:-0.298px;">Allianz Trade Research</span><span style="position:absolute;left:79.20px;top:641.89px;font-size:12.3px;line-height:12.3px;font-weight:bold;color:#111;white-space:pre;letter-spacing:0.186px;-webkit-text-stroke:0.25px #111;">Od zależności rurociągowej</span><span style="position:absolute;left:79.20px;top:657.79px;font-size:12.3px;line-height:12.3px;font-weight:bold;color:#111;white-space:pre;letter-spacing:-0.016px;-webkit-text-stroke:0.25px #111;">do dominacji LNG z USA</span><span style="position:absolute;left:915.30px;top:106.19px;font-size:12.3px;line-height:12.3px;font-weight:bold;color:#111;white-space:pre;letter-spacing:0.217px;-webkit-text-stroke:0.25px #111;">Zarządzanie kryzysowe – popyt,</span><span style="position:absolute;left:915.30px;top:122.69px;font-size:12.3px;line-height:12.3px;font-weight:bold;color:#111;white-space:pre;letter-spacing:0.166px;-webkit-text-stroke:0.25px #111;">podaż i mechanizmy rynkowe</span><span style="position:absolute;left:933.10px;top:454.49px;font-size:11px;line-height:11px;font-weight:bold;color:#111;white-space:pre;letter-spacing:0.045px;">Zarządzanie popytem pozostaje naj-</span><span style="position:absolute;left:934.00px;top:468.49px;font-size:11px;line-height:11px;font-weight:bold;color:#111;white-space:pre;letter-spacing:0.050px;">szybszym i najbardziej efektywnym</span><span style="position:absolute;left:997.80px;top:482.59px;font-size:11px;line-height:11px;font-weight:bold;color:#111;white-space:pre;letter-spacing:-0.139px;">ekonomicznie środkiem.</span><span style="position:absolute;left:914.80px;top:454.49px;font-size:11px;line-height:11px;font-weight:bold;color:#111;white-space:pre;">1.</span>
</body></html>
